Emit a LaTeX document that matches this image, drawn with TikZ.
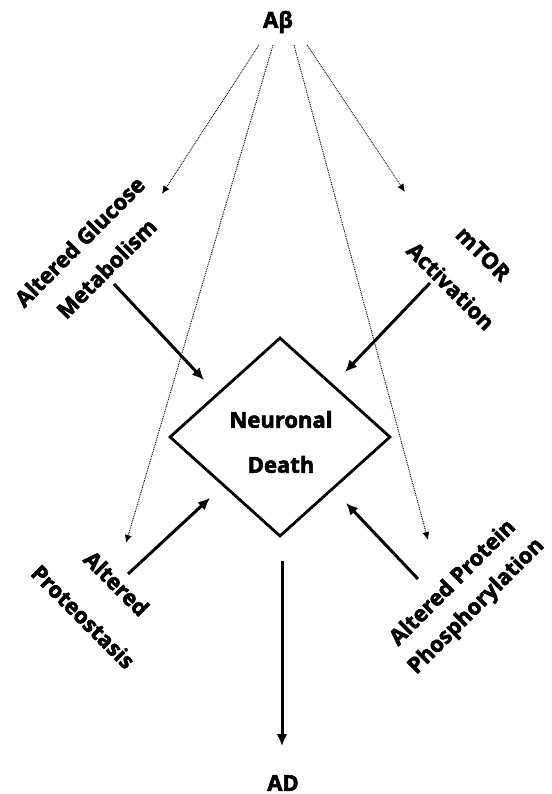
\documentclass[tikz,border=0pt]{standalone}
\usepackage{fontspec}
\setmainfont{Open Sans}[BoldFeatures={FakeBold=2.6}]
\usetikzlibrary{shapes.geometric,arrows.meta}
\begin{document}
\begin{tikzpicture}[x=1pt,y=-1pt,
  every node/.style={font=\fontsize{22}{28}\selectfont\bfseries,align=center,inner sep=0pt},
  effect/.style={line width=3pt,-{Latex[length=12pt,width=11pt]}},
  link/.style={line width=0.9pt,dash pattern=on 0.9pt off 0.9pt,-{Latex[length=8pt,width=7pt]}}]
\useasboundingbox (0,0) rectangle (551,794);
\node (ab) at (278,22) {Aβ};
\node (gm) at (93,255) [rotate=45] {Altered Glucose\\[10pt]Metabolism};
\node (mt) at (467,270) [rotate=-45] {mTOR\\[18pt]Activation};
\node (pr) at (100,600) [rotate=-45] {Altered\\[19pt]Proteostasis};
\node (ph) at (465,595) [rotate=45] {Altered Protein\\[5pt]Phosphorylation};
\node (nd) at (280,437) [draw,diamond,line width=2.8pt,minimum width=221pt,minimum height=199pt] {};
\node (ndtext) at (281,442) {Neuronal\\[17pt]Death};
\node (ad) at (283,783) {AD};
% dotted links from Abeta
\coordinate (ab1) at (259,45);
\coordinate (ab2) at (273,45);
\coordinate (ab3) at (294,45);
\coordinate (ab4) at (307,45);
\coordinate (gm-t) at (162,194);
\coordinate (pr-t) at (126,543);
\coordinate (ph-t) at (428,540);
\coordinate (mt-t) at (405,192);
\draw[link] (ab1)--(gm-t);
\draw[link] (ab2)--(pr-t);
\draw[link] (ab3)--(ph-t);
\draw[link] (ab4)--(mt-t);
% solid arrows into the diamond
\coordinate (gm-s) at (114,284);
\coordinate (gm-e) at (204,380);
\coordinate (mt-s) at (430,283);
\coordinate (mt-e) at (345,372);
\coordinate (pr-s) at (128,574);
\coordinate (pr-e) at (210,498);
\coordinate (ph-s) at (418,579);
\coordinate (ph-e) at (346,503);
\coordinate (nd-s) at (282,561);
\coordinate (ad-e) at (282,746);
\draw[effect] (gm-s)--(gm-e);
\draw[effect] (mt-s)--(mt-e);
\draw[effect] (pr-s)--(pr-e);
\draw[effect] (ph-s)--(ph-e);
\draw[effect] (nd-s)--(ad-e);
\end{tikzpicture}
\end{document}
